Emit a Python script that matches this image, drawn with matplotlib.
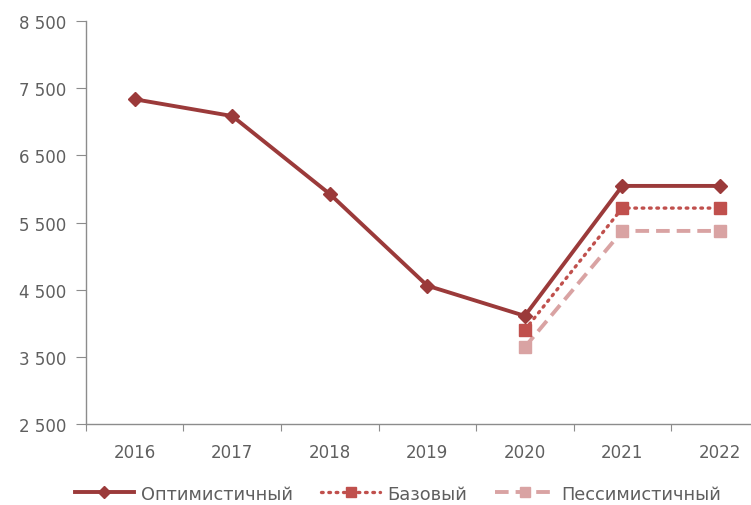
import numpy as np
import matplotlib.pyplot as plt

# Данные
years = ['2016', '2017', '2018', '2019', '2020', '2021', '2022']
optimistic = [7335, 7085, 5925, 4560, 4110, 6045, 6045]
base_years = ['2020', '2021', '2022']
base = [3900, 5715, 5715]
pessimistic = [3645, 5375, 5375]
y_ticks = [2500, 3500, 4500, 5500, 6500, 7500, 8500]

plt.rcParams['font.family'] = ['DejaVu Sans']
text_color = '#5f5f5f'

fig = plt.figure(figsize=(7.51, 5.06), dpi=100)
ax = fig.add_axes([0.1145, 0.160, 0.8855, 0.7965])

x = np.arange(len(years))
xb = np.array([years.index(y) for y in base_years])

ax.plot(x, optimistic, color='#9B3A3A', linewidth=2.8, marker='D', markersize=7,
        label='Оптимистичный', zorder=4)
ax.plot(xb, base, color='#C0504D', linewidth=2.4, linestyle=(0, (0.5, 1.7)),
        dash_capstyle='round', marker='s', markersize=8, label='Базовый', zorder=3)
ax.plot(xb, pessimistic, color='#D9A3A3', linewidth=2.8, linestyle=(0, (3.5, 1.8)),
        marker='s', markersize=8, label='Пессимистичный', zorder=2)

ax.set_yticks(y_ticks)
ax.set_yticklabels([f'{v:,}'.replace(',', ' ') for v in y_ticks])

# Деления между категориями, подписи по центру
ax.set_xticks(np.arange(-0.5, 6.4, 1.0))
ax.set_xticklabels([])
ax.set_xticks(x, minor=True)
ax.set_xticklabels(years, minor=True)
ax.set_xlim(-0.5, 6.32)
ax.set_ylim(2500, 8500)
ax.tick_params(axis='x', which='major', length=5, color='#8c8c8c', direction='out')
ax.tick_params(axis='x', which='minor', length=0, pad=14, labelsize=12,
               labelcolor=text_color)
ax.tick_params(axis='y', length=7, color='#8c8c8c', labelsize=12,
               labelcolor=text_color, pad=7)

for s in ['top', 'right']:
    ax.spines[s].set_visible(False)
for s in ['left', 'bottom']:
    ax.spines[s].set_color('#8c8c8c')
    ax.spines[s].set_linewidth(1.0)

leg = fig.legend(loc='lower center', bbox_to_anchor=(0.53, -0.027), ncol=3,
                 frameon=False, fontsize=12.8, handlelength=3.3, columnspacing=1.6,
                 handletextpad=0.4, markerscale=0.85)
for t in leg.get_texts():
    t.set_color(text_color)

fig.savefig('out.png', dpi=100)
